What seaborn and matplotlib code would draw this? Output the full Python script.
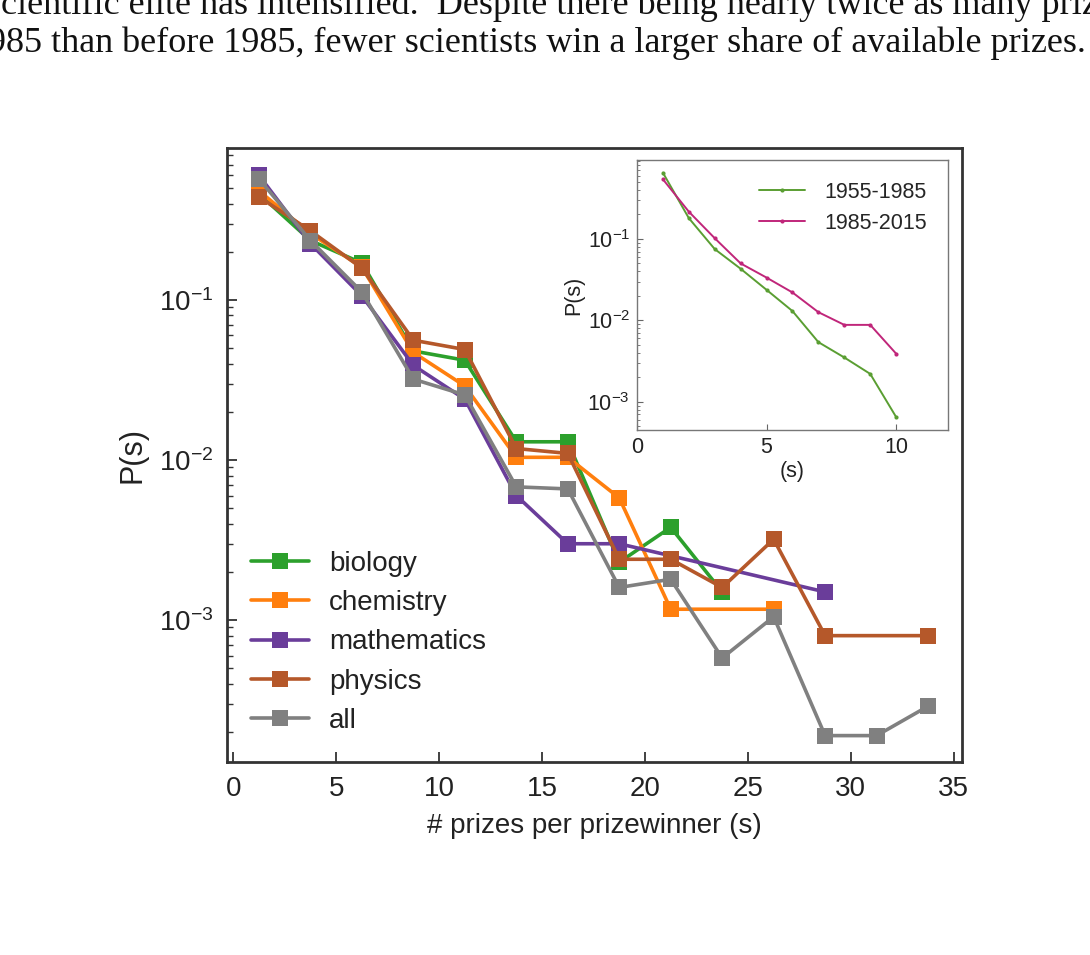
import numpy as np
import pandas as pd
import matplotlib
matplotlib.use("Agg")
import matplotlib.pyplot as plt
import seaborn as sns
from matplotlib.ticker import LogLocator, NullFormatter

sns.set_style("ticks")
plt.rcParams['font.family'] = ['Liberation Sans', 'DejaVu Sans']

# main panel data: bin centres and P(s) per field
s_bins = [1.25, 3.75, 6.25, 8.75, 11.25, 13.75, 16.25, 18.75, 21.25, 23.75, 26.25, 28.75, 31.25, 33.75]

bio_s = [1.25, 3.75, 6.25, 8.75, 11.25, 13.75, 16.25, 18.75, 21.25, 23.75]
bio_p = [0.46, 0.235, 0.17, 0.048, 0.042, 0.013, 0.013, 0.0023, 0.0038, 0.0015]

chem_s = [1.25, 3.75, 6.25, 8.75, 11.25, 13.75, 16.25, 18.75, 21.25, 26.25]
chem_p = [0.48, 0.26, 0.16, 0.047, 0.029, 0.0104, 0.0104, 0.0058, 0.00117, 0.00117]

math_s = [1.25, 3.75, 6.25, 8.75, 11.25, 13.75, 16.25, 18.75, 28.75]
math_p = [0.60, 0.225, 0.106, 0.039, 0.024, 0.006, 0.003, 0.003, 0.0015]

phys_s = [1.25, 3.75, 6.25, 8.75, 11.25, 13.75, 16.25, 18.75, 21.25, 23.75, 26.25, 28.75, 33.75]
phys_p = [0.44, 0.27, 0.158, 0.056, 0.049, 0.0118, 0.011, 0.0024, 0.0024, 0.0016, 0.0032, 0.0008, 0.0008]

all_s = s_bins
all_p = [0.57, 0.235, 0.112, 0.032, 0.0255, 0.0068, 0.0066, 0.0016, 0.0018, 0.00058, 0.00105, 0.00019, 0.00019, 0.00029]

fields = ['biology', 'chemistry', 'mathematics', 'physics', 'all']
field_colors = ['#2ca02c', '#ff7f0e', '#6a3d9a', '#b5582a', '#808080']

# inset data
inset_s = [1, 2, 3, 4, 5, 6, 7, 8, 9, 10]
early_p = [0.65, 0.18, 0.075, 0.043, 0.0237, 0.013, 0.0054, 0.0035, 0.0022, 0.00065]
late_p = [0.54, 0.216, 0.102, 0.05, 0.0335, 0.022, 0.0126, 0.0088, 0.0088, 0.0039]
periods = ['1955-1985', '1985-2015']
period_colors = ['#5a9e32', '#c0267a']

frames = []
for name, xs, ps in zip(fields, [bio_s, chem_s, math_s, phys_s, all_s],
                        [bio_p, chem_p, math_p, phys_p, all_p]):
    frames.append(pd.DataFrame({'s': xs, 'P': ps, 'field': name}))
df = pd.concat(frames, ignore_index=True)

inset_df = pd.concat([
    pd.DataFrame({'s': inset_s, 'P': early_p, 'period': periods[0]}),
    pd.DataFrame({'s': inset_s, 'P': late_p, 'period': periods[1]}),
], ignore_index=True)

fig = plt.figure(figsize=(10.9, 9.55), dpi=100)

# caption text from the page above the figure (cut off at the page edges, as in the scan)
fig.text(-0.012, 0.985, "scientific elite has intensified.  Despite there being nearly twice as many prizes after",
         family='Liberation Serif', fontsize=26, va='baseline', ha='left', color='#111111')
fig.text(0.996, 0.946, "1985 than before 1985, fewer scientists win a larger share of available prizes.",
         family='Liberation Serif', fontsize=26, va='baseline', ha='right', color='#111111')

ax = fig.add_axes([0.2083, 0.2021, 0.6743, 0.643])
sns.lineplot(data=df, x='s', y='P', hue='field', hue_order=fields,
             palette=dict(zip(fields, field_colors)), marker='s', markersize=11,
             markeredgewidth=0, linewidth=2.6, sort=False, ax=ax)
ax.set_yscale('log')
ax.set_xlim(-0.3, 35.4)
ax.set_ylim(1.3e-4, 0.89)
ax.set_xticks(range(0, 36, 5))
ax.set_yticks([1e-3, 1e-2, 1e-1])
ax.yaxis.set_minor_locator(LogLocator(base=10, subs=np.arange(2, 10), numticks=10))
ax.yaxis.set_minor_formatter(NullFormatter())
ax.tick_params(axis='both', which='major', direction='in', length=7, width=1.3,
               labelsize=20, colors='#333333', labelcolor='#222222', pad=10)
ax.tick_params(axis='y', which='minor', direction='in', length=4, width=1.0, colors='#333333')
for sp in ax.spines.values():
    sp.set_color('#333333')
    sp.set_linewidth(2.0)
ax.set_xlabel('# prizes per prizewinner (s)', fontsize=20, color='#222222', labelpad=8)
ax.set_ylabel('P(s)', fontsize=22, color='#222222', labelpad=8)

leg = ax.legend(loc='center left', bbox_to_anchor=(-0.005, 0.195), frameon=False,
                fontsize=20, handlelength=2.1, handletextpad=0.7, labelspacing=0.48,
                borderaxespad=0.6)
for t in leg.get_texts():
    t.set_color('#222222')

# inset
ins = fig.add_axes([0.5844, 0.5497, 0.2853, 0.2827])
sns.lineplot(data=inset_df, x='s', y='P', hue='period', hue_order=periods,
             palette=dict(zip(periods, period_colors)), marker='o', markersize=3,
             markeredgewidth=0, linewidth=1.4, ax=ins)
ins.set_yscale('log')
ins.set_xlim(0, 12)
ins.set_ylim(4.5e-4, 0.93)
ins.set_xticks([0, 5, 10])
ins.set_yticks([1e-3, 1e-2, 1e-1])
ins.yaxis.set_minor_locator(LogLocator(base=10, subs=np.arange(2, 10), numticks=10))
ins.yaxis.set_minor_formatter(NullFormatter())
ins.tick_params(axis='both', which='major', direction='in', length=4, width=0.8,
                labelsize=15.5, colors='#666666', labelcolor='#222222', pad=5)
ins.tick_params(axis='y', which='minor', direction='in', length=2.5, width=0.6, colors='#666666')
for sp in ins.spines.values():
    sp.set_color('#777777')
    sp.set_linewidth(1.0)
ins.set_xlabel('(s)', fontsize=15.5, color='#222222', labelpad=2)
ins.set_ylabel('P(s)', fontsize=15.5, color='#222222', labelpad=2)
ileg = ins.legend(loc='upper right', bbox_to_anchor=(0.98, 0.975), frameon=False,
                  fontsize=15.5, handlelength=2.1, handletextpad=0.9, labelspacing=0.45,
                  borderaxespad=0.3)

fig.savefig('out.png', dpi=100)
